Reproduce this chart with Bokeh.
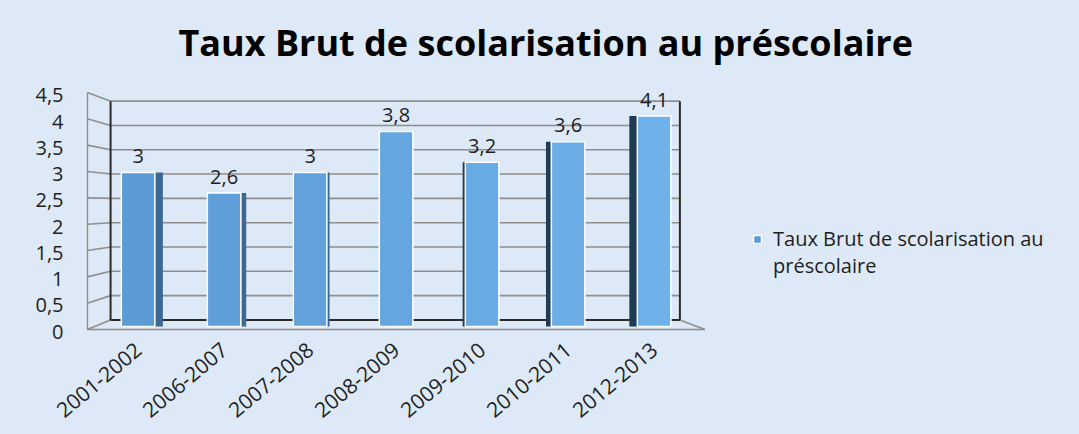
from bokeh.plotting import figure
from bokeh.models import Range1d, LinearAxis, FixedTicker, Legend, LegendItem, ColumnDataSource
from bokeh.core.properties import value
from bokeh.embed import file_html
from bokeh.resources import INLINE

# ---------------- data ----------------
categories = ["2001-2002", "2006-2007", "2007-2008", "2008-2009", "2009-2010", "2010-2011", "2012-2013"]
values = [3, 2.6, 3, 3.8, 3.2, 3.6, 4.1]
y_ticks = [0, 0.5, 1, 1.5, 2, 2.5, 3, 3.5, 4, 4.5]
y_tick_labels = ["0", "0,5", "1", "1,5", "2", "2,5", "3", "3,5", "4", "4,5"]
title_text = "Taux Brut de scolarisation au préscolaire"
series_lines = ["Taux Brut de scolarisation au", "préscolaire"]

# ---------------- layout ----------------
W, H = 1079, 434
ML, MR, MT, MB = 86, 4, 80, 98
FW, FH = W - ML - MR, H - MT - MB
PX_PER_CAT = 86.0
PX_PER_UNIT = 51.75          # bars scale
FRONT_PX_PER_UNIT = 52.9     # front edge (axis labels) scale

x_start = -0.6
x_end = x_start + FW / PX_PER_CAT
y_end = 4.7536
y_start = y_end - FH / PX_PER_UNIT
fy_end = 4.7448
fy_start = fy_end - FH / FRONT_PX_PER_UNIT

BG = "#DDE9F6"
FONT = "Open Sans"

p = figure(width=W, height=H, x_range=Range1d(x_start, x_end), y_range=Range1d(y_start, y_end),
           output_backend="svg", toolbar_location=None, y_axis_location=None,
           min_border_left=ML, min_border_right=MR, min_border_top=MT, min_border_bottom=MB)
p.styles = {"background-color": BG}
p.background_fill_alpha = 0
p.border_fill_alpha = 0
p.outline_line_color = None
p.grid.visible = False

# title
p.title.text = title_text
p.title.text_font = FONT
p.title.text_font_style = "bold"
p.title.text_font_size = "36px"
p.title.text_color = "#000000"
p.title.align = "left"
p.title.offset = 92
p.title.standoff = 31

# ---------------- 3D frame (walls & floor) ----------------
def back_y(v):
    return 0.1295 + 0.9469 * v

def front_y(v):
    return -0.058 + 1.0261 * v

n = len(categories)
xfl = x_start + 0.01
xbl = -0.32
xbr = (n - 1) + 0.30
xfr = (n - 1) + 0.59
top_v = y_ticks[-1]

GRAY = "#8E8E8E"
DARK = "#2B2B2B"

# left wall slanted lines
p.segment(x0=[xfl] * len(y_ticks), y0=[front_y(v) for v in y_ticks],
          x1=[xbl] * len(y_ticks), y1=[back_y(v) for v in y_ticks],
          line_color=GRAY, line_width=1.6)
# back wall grid lines
p.segment(x0=[xbl] * (len(y_ticks) - 1), y0=[back_y(v) for v in y_ticks[1:]],
          x1=[xbr] * (len(y_ticks) - 1), y1=[back_y(v) for v in y_ticks[1:]],
          line_color=GRAY, line_width=1.6)
# floor
p.segment(x0=[xfl, xbr], y0=[front_y(0), back_y(0)], x1=[xfr, xfr], y1=[front_y(0), front_y(0)],
          line_color=GRAY, line_width=1.6)
# front left edge
p.segment(x0=[xfl], y0=[front_y(0)], x1=[xfl], y1=[front_y(top_v)], line_color=GRAY, line_width=1.6)
# dark back edges
p.segment(x0=[xbl, xbr, xbl], y0=[back_y(0), back_y(0), back_y(0)],
          x1=[xbl, xbr, xbr], y1=[back_y(top_v), back_y(top_v), back_y(0)],
          line_color=DARK, line_width=2)

# ---------------- bars ----------------
idx = list(range(n))
BAR_W = 0.39
VANISH = 3
DEPTH = 0.031

def lerp_color(c0, c1, t):
    return "#%02x%02x%02x" % tuple(int(round(a + (b - a) * t)) for a, b in zip(c0, c1))

face_colors = [lerp_color((91, 155, 213), (110, 177, 235), i / (n - 1)) for i in idx]

side_l, side_r, side_top, side_col = [], [], [], []
for i, v in zip(idx, values):
    sw = DEPTH * abs(VANISH - i)
    if sw <= 0:
        continue
    if i < VANISH:
        side_l.append(i + BAR_W / 2)
        side_r.append(i + BAR_W / 2 + sw)
        side_col.append("#3D6894")
    else:
        side_l.append(i - BAR_W / 2 - sw)
        side_r.append(i - BAR_W / 2)
        side_col.append("#213A56")
    side_top.append(v)

p.quad(left=side_l, right=side_r, top=side_top, bottom=[0] * len(side_l),
       fill_color=side_col, line_color=None)

src = ColumnDataSource(dict(x=idx, top=values, color=face_colors))
bars = p.vbar(x="x", top="top", bottom=0, width=BAR_W, source=src,
              fill_color="color", line_color="white", line_width=1.5)

# value labels
val_text = [("%g" % v).replace(".", ",") for v in values]
p.text(x=idx, y=[v + 0.32 for v in values], text=val_text,
       text_align="center", text_baseline="middle",
       text_font=value(FONT), text_font_size="20px", text_color="#1E1E1E")

# ---------------- axes ----------------
p.xaxis.ticker = FixedTicker(ticks=idx)
p.xaxis.major_label_overrides = {i: c for i, c in zip(idx, categories)}
p.xaxis.major_label_orientation = 0.7
p.xaxis.axis_line_color = None
p.xaxis.major_tick_line_color = None
p.xaxis.minor_tick_line_color = None
p.xaxis.major_tick_out = 0
p.xaxis.major_label_standoff = 10
p.xaxis.major_label_text_font = FONT
p.xaxis.major_label_text_font_size = "21px"
p.xaxis.major_label_text_color = "#1E1E1E"

p.extra_y_ranges = {"front": Range1d(fy_start, fy_end)}
yax = LinearAxis(y_range_name="front", ticker=FixedTicker(ticks=y_ticks))
yax.major_label_overrides = {t: s for t, s in zip(y_ticks, y_tick_labels)}
yax.axis_line_color = None
yax.major_tick_line_color = None
yax.minor_tick_line_color = None
yax.major_tick_out = 0
yax.major_label_standoff = 23
yax.major_label_text_font = FONT
yax.major_label_text_font_size = "20px"
yax.major_label_text_color = "#1E1E1E"
p.add_layout(yax, "left")

# ---------------- legend ----------------
dummy = p.scatter(x=[], y=[], fill_alpha=0, line_alpha=0)
legend = Legend(items=[LegendItem(label=series_lines[0], renderers=[bars], index=0),
                       LegendItem(label=series_lines[1], renderers=[dummy])],
                location=(666, 57), orientation="vertical")
legend.label_text_font = FONT
legend.label_text_font_size = "20px"
legend.label_text_color = "#1E1E1E"
legend.glyph_width = 10
legend.glyph_height = 10
legend.label_standoff = 11
legend.label_height = 25
legend.spacing = 0
legend.padding = 0
legend.margin = 0
legend.background_fill_alpha = 0
legend.border_line_color = None
p.add_layout(legend)

open("out.html", "w").write(file_html(p, INLINE))
